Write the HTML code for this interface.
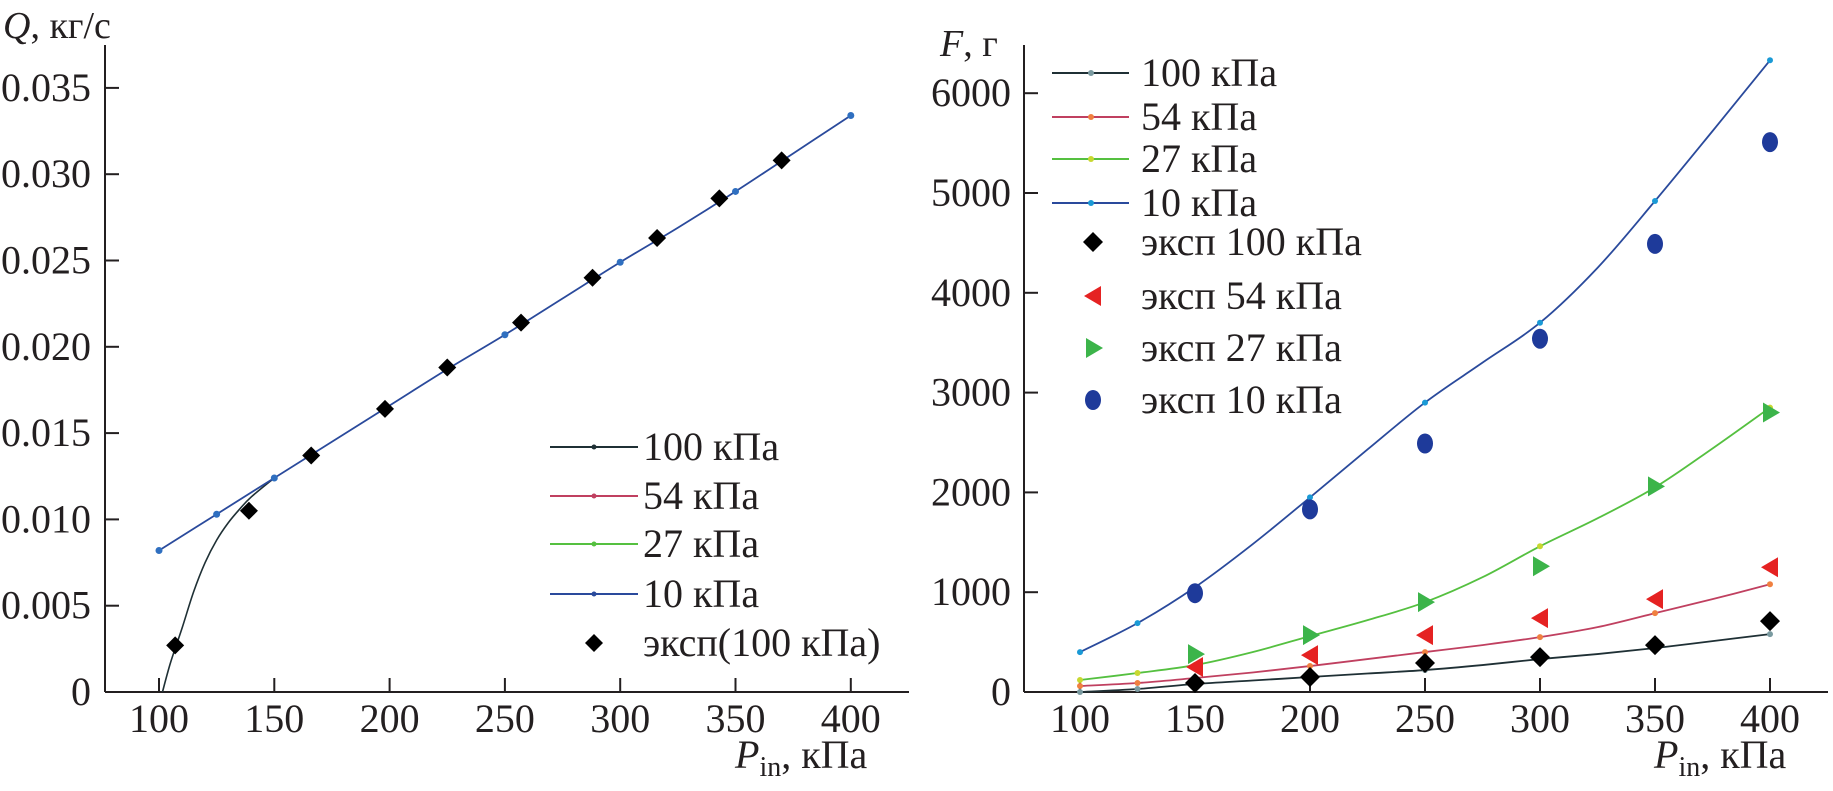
<!DOCTYPE html>
<html><head><meta charset="utf-8"><style>
html,body{margin:0;padding:0;background:#fff;}
svg{display:block;font-family:"Liberation Serif","DejaVu Serif",serif;}
svg text{font-family:"Liberation Serif","DejaVu Serif",serif;}
</style></head><body>
<svg id="c" width="1833" height="791" viewBox="0 0 1833 791"></svg>
<script>
// ---- Left chart data (Q vs Pin) ----
const qLineX = [100,125,150,175,200,225,250,275,300,325,350,375,400];
const q10 = [0.0082,0.0103,0.0124,0.0145,0.0166,0.0187,0.0207,0.0228,0.0249,0.0269,0.0290,0.0312,0.0334];
const q10MarkX = [100,125,150,250,300,350,400];
const q10Mark = [0.0082,0.0103,0.0124,0.0207,0.0249,0.0290,0.0334];
const q100X = [101.5,105,110,115,120,125,130,135,140,150];
const q100 = [0,0.0017,0.0037,0.0058,0.0075,0.0088,0.0098,0.0106,0.0113,0.0124];
const qExpX = [107,139,166,198,225,257,288,316,343,370];
const qExp = [0.0027,0.0105,0.0137,0.0164,0.0188,0.0214,0.0240,0.0263,0.0286,0.0308];
const qTicksY = ["0","0.005","0.010","0.015","0.020","0.025","0.030","0.035"];
const xTicks = [100,150,200,250,300,350,400];
// ---- Right chart data (F vs Pin) ----
const fX = [100,125,150,175,200,225,250,275,300,325,350,375,400];
const f100 = [0,30,80,115,150,185,220,270,330,380,440,510,580];
const f54 = [60,90,140,195,260,330,400,470,550,650,790,930,1080];
const f27 = [120,190,270,400,560,720,900,1150,1460,1740,2050,2440,2850];
const f10 = [400,690,1050,1480,1950,2430,2900,3300,3700,4250,4920,5620,6330];
const eX = [150,200,250,300,350,400];
const e100 = [90,150,290,350,470,710];
const e54 = [250,370,570,740,930,1250];
const e27 = [380,570,900,1260,2060,2800];
const e10 = [990,1830,2490,3540,4490,5510];
const fTicksY = [0,1000,2000,3000,4000,5000,6000];

const NS="http://www.w3.org/2000/svg";
const svg=document.getElementById('c');
function mk(tag,attrs,parent){const e=document.createElementNS(NS,tag);for(const k in attrs)e.setAttribute(k,attrs[k]);(parent||svg).appendChild(e);return e;}
function txt(s,x,y,size,anchor,parent){const t=mk('text',{x:x,y:y,'font-size':size,'text-anchor':anchor||'start',fill:'#231f20','font-family':'Liberation Serif, DejaVu Serif, serif'},parent);t.textContent=s;return t;}
function spline(pts){let d='M'+pts[0][0]+','+pts[0][1];for(let i=0;i<pts.length-1;i++){const p0=pts[i-1]||pts[i],p1=pts[i],p2=pts[i+1],p3=pts[i+2]||p2;
 const c1=[p1[0]+(p2[0]-p0[0])/6,p1[1]+(p2[1]-p0[1])/6],c2=[p2[0]-(p3[0]-p1[0])/6,p2[1]-(p3[1]-p1[1])/6];
 d+=` C${c1[0]},${c1[1]} ${c2[0]},${c2[1]} ${p2[0]},${p2[1]}`;}return d;}
function diamond(x,y,r,fill,g){return mk('polygon',{points:`${x},${y-r} ${x+r},${y} ${x},${y+r} ${x-r},${y}`,fill:fill},g);}

// ===== LEFT =====
const L=mk('g',{},svg);
const lx=v=>159+(v-100)*2.306, ly=v=>692-v/0.005*86.3;
mk('line',{x1:105,y1:45,x2:105,y2:692,stroke:'#231f20','stroke-width':2},L);
mk('line',{x1:105,y1:692,x2:909,y2:692,stroke:'#231f20','stroke-width':2},L);
qTicksY.forEach((s,i)=>{const y=ly(i*0.005);mk('line',{x1:105,y1:y,x2:119,y2:y,stroke:'#231f20','stroke-width':2},L);const t=txt(s,91,y+13,40,'end',L);});
xTicks.forEach(v=>{const x=lx(v);mk('line',{x1:x,y1:692,x2:x,y2:678,stroke:'#231f20','stroke-width':2},L);const t=txt(String(v),x,732,40,'middle',L);});
let t=txt('',3,38,38,'start',L);t.innerHTML='<tspan font-style="italic">Q</tspan>, кг/с';
t=txt('',735,768,40,'start',L);t.innerHTML='<tspan font-style="italic">P</tspan><tspan font-size="28" dy="8">in</tspan><tspan dy="-8">, кПа</tspan>';
let p=mk('path',{d:spline(q100X.map((v,i)=>[lx(v),ly(q100[i])])),fill:'none',stroke:'#1f3035','stroke-width':1.6},L);
p=mk('path',{d:spline(qLineX.map((v,i)=>[lx(v),ly(q10[i])])),fill:'none',stroke:'#2a4a9c','stroke-width':1.8},L);
q10MarkX.forEach((v,i)=>{const m=mk('circle',{cx:lx(v),cy:ly(q10Mark[i]),r:3.5,fill:'#2f6fc0'},L);});
qExpX.forEach((v,i)=>{const m=diamond(lx(v),ly(qExp[i]),9,'#000',L);});
// legend
const LL=mk('g',{},L);
[['100 кПа','#1f3035',447],['54 кПа','#c04060',496],['27 кПа','#55c040',544],['10 кПа','#2a4a9c',594]].forEach(r=>{
 mk('line',{x1:550,y1:r[2],x2:638,y2:r[2],stroke:r[1],'stroke-width':2},LL);mk('circle',{cx:594,cy:r[2],r:2.5,fill:r[1]},LL);
 const e=txt(r[0],643,r[2]+13,40,'start',LL);});
diamond(594,643,9,'#000',LL);
t=txt('эксп(100 кПа)',643,656,40,'start',LL);

// ===== RIGHT =====
const R=mk('g',{},svg);
const rx=v=>1080+(v-100)*2.3, ry=v=>692-v*0.0998;
mk('line',{x1:1024,y1:45,x2:1024,y2:692,stroke:'#231f20','stroke-width':2},R);
mk('line',{x1:1024,y1:692,x2:1828,y2:692,stroke:'#231f20','stroke-width':2},R);
fTicksY.forEach(v=>{const y=ry(v);mk('line',{x1:1024,y1:y,x2:1038,y2:y,stroke:'#231f20','stroke-width':2},R);const e=txt(String(v),1011,y+13,40,'end',R);});
xTicks.forEach(v=>{const x=rx(v);mk('line',{x1:x,y1:692,x2:x,y2:678,stroke:'#231f20','stroke-width':2},R);const e=txt(String(v),x,732,40,'middle',R);});
t=txt('',940,56,38,'start',R);t.innerHTML='<tspan font-style="italic">F</tspan>, г';
t=txt('',1654,768,40,'start',R);t.innerHTML='<tspan font-style="italic">P</tspan><tspan font-size="28" dy="8">in</tspan><tspan dy="-8">, кПа</tspan>';
const series=[[f100,'#1f3035','#7a9aa0','line-100kpa'],[f54,'#c04060','#f08040','line-54kpa'],[f27,'#55c040','#c8d830','line-27kpa'],[f10,'#2a4a9c','#1a9ad6','line-10kpa']];
series.forEach(s=>{const pp=mk('path',{d:spline(fX.map((v,i)=>[rx(v),ry(s[0][i])])),fill:'none',stroke:s[1],'stroke-width':1.8},R);
 fX.forEach((v,i)=>{if(i%2==0||i==1){const m=mk('circle',{cx:rx(v),cy:ry(s[0][i]),r:3,fill:s[2]},R);}});});
eX.forEach((v,i)=>{
 let m=diamond(rx(v),ry(e100[i]),10,'#000',R);
 const x=rx(v),y=ry(e54[i]);m=mk('polygon',{points:`${x-9},${y} ${x+8},${y-10} ${x+8},${y+10}`,fill:'#e52222'},R);
 const y2=ry(e27[i]);m=mk('polygon',{points:`${x+10},${y2} ${x-7},${y2-10} ${x-7},${y2+10}`,fill:'#3cb44a'},R);
 const y3=ry(e10[i]);m=mk('ellipse',{cx:x,cy:y3,rx:8,ry:10,fill:'#1e3a9a'},R);
});
const RL=mk('g',{},R);
[['100 кПа','#1f3035','#7a9aa0',73],['54 кПа','#c04060','#f08040',117],['27 кПа','#55c040','#c8d830',159],['10 кПа','#2a4a9c','#1a9ad6',203]].forEach(r=>{
 mk('line',{x1:1052,y1:r[3],x2:1129,y2:r[3],stroke:r[1],'stroke-width':2},RL);mk('circle',{cx:1091,cy:r[3],r:3,fill:r[2]},RL);
 const e=txt(r[0],1141,r[3]+13,40,'start',RL);});
diamond(1093,242,10,'#000',RL);
mk('polygon',{points:'1084,296 1101,286 1101,306',fill:'#e52222'},RL);
mk('polygon',{points:'1103,348 1086,338 1086,358',fill:'#3cb44a'},RL);
mk('ellipse',{cx:1093,cy:400,rx:8,ry:10,fill:'#1e3a9a'},RL);
[['эксп 100 кПа',242],['эксп 54 кПа',296],['эксп 27 кПа',348],['эксп 10 кПа',400]].forEach(r=>{const e=txt(r[0],1141,r[1]+13,40,'start',RL);});
</script>
</body></html>
